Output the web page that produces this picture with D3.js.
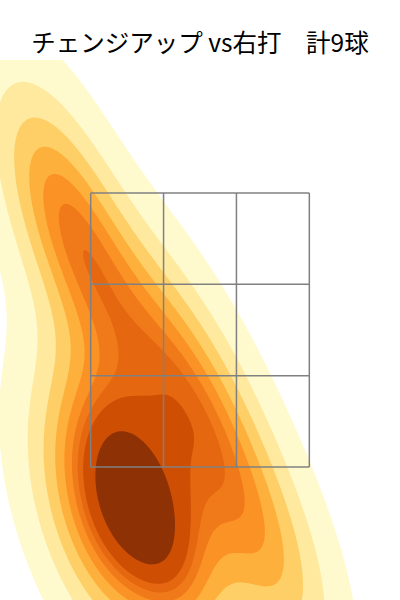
<!DOCTYPE html>
<html lang="ja">
<head>
<meta charset="UTF-8">
<title>チェンジアップ vs右打</title>
<style>
  body { margin: 0; background: #fff; }
  svg { display: block; }
  .title { font-family: "Noto Sans CJK JP", sans-serif; font-size: 24.5px; fill: #000; }
</style>
</head>
<body>
<svg id="chart" width="400" height="600"></svg>
<script src="https://d3js.org/d3.v7.min.js"></script>
<script>
// pitch locations, feet (catcher's view)
const plateX = [-1.11, -0.84, -0.26, 0.135, -0.66, -0.45, -0.24, -0.84, 0.56];
const plateZ = [3.56, 2.94, 2.34, 1.70, 1.42, 1.24, 1.02, 0.98, 0.785];

// strike zone grid edges
const zoneX = [-0.82, -0.2733, 0.2733, 0.82];
const zoneZ = [1.5, 2.1667, 2.8333, 3.5];

const titleText = "チェンジアップ vs右打\u3000計" + plateX.length + "球";

// matplotlib YlOrBr stops
const ylOrBr = ["#ffffe5", "#fff7bc", "#fee391", "#fec44f", "#fe9929", "#ec7014", "#cc4c02", "#993404", "#662506"];

const width = 400, height = 600;
const plot = { left: 0, right: 400, top: 60, bottom: 600 };

const x = d3.scaleLinear().domain([-1.5, 1.5]).range([plot.left, plot.right]);
const y = d3.scaleLinear().domain([0.53, 4.47]).range([plot.bottom, plot.top]);
const cmap = d3.scaleLinear().domain(d3.range(ylOrBr.length).map(i => i / (ylOrBr.length - 1))).range(ylOrBr).clamp(true);

const svg = d3.select("#chart");

svg.append("text")
    .attr("class", "title")
    .attr("x", width / 2)
    .attr("y", 52)
    .attr("text-anchor", "middle")
    .text(titleText);

// gaussian kde, scott bandwidth, full covariance (like scipy)
const n = plateX.length;
const mx = d3.mean(plateX), mz = d3.mean(plateZ);
let sxx = 0, szz = 0, sxz = 0;
for (let i = 0; i < n; i++) {
    const dx = plateX[i] - mx, dz = plateZ[i] - mz;
    sxx += dx * dx; szz += dz * dz; sxz += dx * dz;
}
const f2 = Math.pow(n, -1 / 3);
const kxx = sxx / (n - 1) * f2, kzz = szz / (n - 1) * f2, kxz = sxz / (n - 1) * f2;
const det = kxx * kzz - kxz * kxz;
const ixx = kzz / det, izz = kxx / det, ixz = -kxz / det;

const G = 200, cut = 3;
const gx0 = d3.min(plateX) - cut * Math.sqrt(kxx), gx1 = d3.max(plateX) + cut * Math.sqrt(kxx);
const gz0 = d3.min(plateZ) - cut * Math.sqrt(kzz), gz1 = d3.max(plateZ) + cut * Math.sqrt(kzz);

const values = new Float64Array(G * G);
for (let j = 0; j < G; j++) {
    const zz = gz0 + j * (gz1 - gz0) / (G - 1);
    for (let i = 0; i < G; i++) {
        const xx = gx0 + i * (gx1 - gx0) / (G - 1);
        let s = 0;
        for (let k = 0; k < n; k++) {
            const dx = xx - plateX[k], dz = zz - plateZ[k];
            s += Math.exp(-0.5 * (ixx * dx * dx + 2 * ixz * dx * dz + izz * dz * dz));
        }
        values[j * G + i] = s;
    }
}

// iso-proportion levels -> density levels
const isoprop = d3.range(10).map(i => 0.05 + i * 0.95 / 9);
const sorted = Array.from(values).sort((a, b) => b - a);
const total = d3.sum(sorted);
const cum = [];
let acc = 0;
sorted.forEach(v => { acc += v; cum.push(acc / total); });
const levels = isoprop.map(p => {
    const idx = d3.bisectLeft(cum, 1 - p);
    return sorted[Math.min(idx, sorted.length - 1)];
});

const lo = levels[0], hi = levels[levels.length - 1];
const bandColor = k => cmap(((levels[k] + levels[k + 1]) / 2 - lo) / (hi - lo));

const gridX = d3.scaleLinear().domain([0.5, G - 0.5]).range([gx0, gx1]);
const gridZ = d3.scaleLinear().domain([0.5, G - 0.5]).range([gz0, gz1]);
const path = d3.geoPath(d3.geoTransform({
    point(px, py) { this.stream.point(x(gridX(px)), y(gridZ(py))); }
}));

const bands = d3.contours().size([G, G]).thresholds(levels.slice(0, -1))(values);

svg.append("clipPath").attr("id", "plot-clip")
    .append("rect")
    .attr("x", plot.left).attr("y", plot.top)
    .attr("width", plot.right - plot.left).attr("height", plot.bottom - plot.top);

svg.append("g")
    .attr("clip-path", "url(#plot-clip)")
    .selectAll("path")
    .data(bands)
    .join("path")
    .attr("d", path)
    .attr("fill", (d, k) => bandColor(k))
    .attr("stroke", "none");

// strike zone
const zone = svg.append("g").attr("stroke", "gray").attr("stroke-width", 1.5).attr("fill", "none");
zone.selectAll("line.v").data(zoneX).join("line").attr("class", "v")
    .attr("x1", d => x(d)).attr("x2", d => x(d))
    .attr("y1", y(zoneZ[0])).attr("y2", y(zoneZ[zoneZ.length - 1]));
zone.selectAll("line.h").data(zoneZ).join("line").attr("class", "h")
    .attr("y1", d => y(d)).attr("y2", d => y(d))
    .attr("x1", x(zoneX[0])).attr("x2", x(zoneX[zoneX.length - 1]));
</script>
</body>
</html>
